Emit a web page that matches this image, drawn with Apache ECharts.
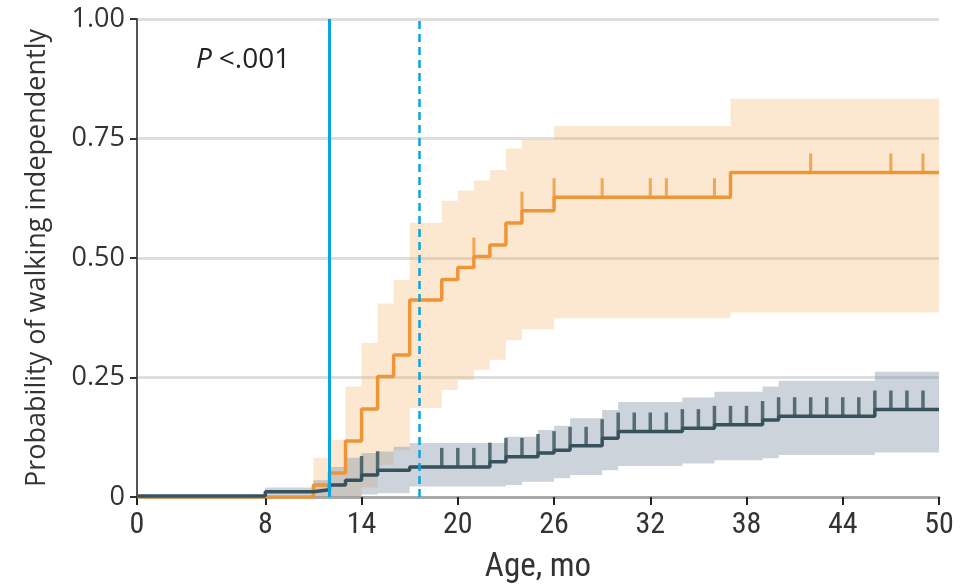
<!DOCTYPE html>
<html>
<head>
<meta charset="utf-8">
<script src="https://cdn.jsdelivr.net/npm/echarts@6/dist/echarts.min.js"></script>
<style>
  html, body { margin: 0; padding: 0; background: #fff; }
  #chart { width: 974px; height: 587px; }
</style>
</head>
<body>
<div id="chart"></div>
<script>
// x tick labels (months)
var xTicks = [0, 8, 14, 20, 26, 32, 38, 44, 50];

// orange group: Kaplan-Meier step curve
var orangeT = [0, 11, 12, 13, 14, 15, 16, 17, 19, 20, 21, 22, 23, 24, 26, 37, 50];
var orangeV = [0, 0.025, 0.05, 0.117, 0.184, 0.252, 0.297, 0.412, 0.455, 0.48, 0.503, 0.527, 0.573, 0.599, 0.627, 0.679, 0.679];
var orangeCens = [21, 24, 26, 29, 32, 33, 36, 42, 47, 49];
// orange confidence band
var orangeBandT = [11, 12, 13, 14, 15, 16, 17, 19, 20, 21, 22, 23, 24, 26, 37, 50];
var orangeLo = [0, 0, 0, 0.02, 0.067, 0.098, 0.186, 0.224, 0.245, 0.266, 0.287, 0.328, 0.351, 0.374, 0.386, 0.386];
var orangeHi = [0.082, 0.12, 0.231, 0.322, 0.405, 0.454, 0.574, 0.62, 0.641, 0.662, 0.684, 0.729, 0.748, 0.776, 0.833, 0.833];

// dark group
var darkT = [0, 8, 11, 12, 13, 14, 15, 17, 22, 23, 25, 26, 27, 29, 30, 34, 36, 39, 40, 46, 50];
var darkV = [0.002, 0.011, 0.015, 0.025, 0.035, 0.046, 0.056, 0.063, 0.074, 0.084, 0.092, 0.098, 0.107, 0.123, 0.137, 0.144, 0.151, 0.161, 0.169, 0.183, 0.183];
var darkCens = [14, 15, 19, 20, 21, 22, 23, 24, 25, 26, 27, 28, 29, 30, 31, 32, 33, 34, 35, 36, 37, 38, 39, 40, 41, 42, 43, 44, 45, 46, 47, 48, 49];
var darkBandT = [8, 11, 12, 13, 14, 15, 16, 17, 23, 24, 25, 26, 27, 29, 30, 34, 36, 39, 40, 46, 50];
var darkLo = [0, 0, 0, 0, 0.005, 0.008, 0.008, 0.022, 0.025, 0.032, 0.032, 0.039, 0.046, 0.056, 0.065, 0.07, 0.077, 0.081, 0.088, 0.093, 0.093];
var darkHi = [0.02, 0.035, 0.063, 0.082, 0.092, 0.095, 0.105, 0.113, 0.126, 0.126, 0.14, 0.149, 0.165, 0.182, 0.199, 0.208, 0.22, 0.231, 0.243, 0.262, 0.262];

// reference lines (months)
var solidLineAt = 12;
var dashedLineAt = 17.6;

var ORANGE = '#EE9637';
var DARK = '#36525D';
var BLUE = '#0AA4E2';
var FONT = 'Open Sans, Noto Sans, sans-serif';
var NARROW = 'Liberation Sans Narrow, Roboto Condensed, Liberation Sans';

function pairs(t, v) {
    return t.map(function (x, i) { return [x, v[i]]; });
}
// level of a step curve at time x
function levelAt(t, v, x) {
    var k = 0;
    for (var i = 0; i < t.length; i++) {
        if (t[i] <= x) k = i;
    }
    return v[k];
}
function censPairs(t, v, c) {
    return c.map(function (x) { return [x, levelAt(t, v, x)]; });
}

// confidence band as a stepped polygon, placed through the axes
function band(name, t, lo, hi, color) {
    return {
        name: name, type: 'custom', silent: true, z: 1,
        data: [[t[0], lo[0]]],
        renderItem: function (params, api) {
            var pts = [];
            for (var i = 0; i < t.length; i++) {
                if (i > 0) pts.push(api.coord([t[i], hi[i - 1]]));
                pts.push(api.coord([t[i], hi[i]]));
            }
            for (var j = t.length - 1; j >= 0; j--) {
                pts.push(api.coord([t[j], lo[j]]));
                if (j > 0) pts.push(api.coord([t[j], lo[j - 1]]));
            }
            return { type: 'polygon', shape: { points: pts }, style: { fill: color } };
        }
    };
}

var myChart = echarts.init(document.getElementById('chart'), null, { renderer: 'canvas' });

var series = [];
series.push(band('orangeBand', orangeBandT, orangeLo, orangeHi, 'rgba(244,178,100,0.3)'));
series.push(band('darkBand', darkBandT, darkLo, darkHi, 'rgba(120,140,160,0.38)'));
series.push({
    name: 'orange', type: 'line', step: 'end', data: pairs(orangeT, orangeV),
    symbol: 'none', lineStyle: { color: ORANGE, width: 3.5 }, z: 3,
    markLine: {
        silent: true, symbol: 'none', label: { show: false }, z: 6,
        data: [
            { xAxis: solidLineAt, lineStyle: { color: BLUE, width: 3, type: 'solid' } },
            { xAxis: dashedLineAt, lineStyle: { color: BLUE, width: 2.5, type: [8, 5] } }
        ]
    }
});
series.push({
    name: 'dark', type: 'line', step: 'end', data: pairs(darkT, darkV),
    symbol: 'none', lineStyle: { color: DARK, width: 3.5 }, z: 3
});
series.push({
    name: 'ocens', type: 'scatter', data: censPairs(orangeT, orangeV, orangeCens),
    symbol: 'rect', symbolSize: [3, 19], symbolOffset: [0, '-50%'],
    itemStyle: { color: ORANGE }, z: 3, silent: true
});
series.push({
    name: 'dcens', type: 'scatter', data: censPairs(darkT, darkV, darkCens),
    symbol: 'rect', symbolSize: [3.5, 19], symbolOffset: [0, '-50%'],
    itemStyle: { color: DARK }, z: 3, silent: true
});

myChart.setOption({
    animation: false,
    grid: { left: 137, right: 35, top: 19, bottom: 90, containLabel: false, outerBoundsMode: 'none' },
    xAxis: {
        type: 'value', min: 0, max: 50, interval: 2,
        name: 'Age, mo', nameLocation: 'middle', nameGap: 54,
        nameTextStyle: { fontFamily: NARROW, fontSize: 33, color: '#333' },
        axisLine: { onZero: false, lineStyle: { color: '#A8A8A8', width: 3 } },
        axisTick: { customValues: xTicks, length: 8, lineStyle: { color: '#222', width: 2 } },
        axisLabel: {
            customValues: xTicks, margin: 13,
            fontFamily: NARROW, fontSize: 30, color: '#333'
        },
        splitLine: { show: false }
    },
    yAxis: {
        type: 'value', min: 0, max: 1, interval: 0.25,
        name: 'Probability of walking independently', nameLocation: 'middle', nameGap: 86,
        nameTextStyle: { fontFamily: FONT, fontSize: 27, color: '#333' },
        axisLine: { show: true, lineStyle: { color: '#555', width: 2 } },
        axisTick: { show: true, length: 7, lineStyle: { color: '#333', width: 2 } },
        axisLabel: {
            margin: 12, fontFamily: FONT, fontSize: 27, color: '#333',
            formatter: function (v) { return v === 0 ? '0' : v.toFixed(2); }
        },
        splitLine: { lineStyle: { color: '#DEDEDE', width: 3 } }
    },
    graphic: [
        {
            type: 'text', left: 196, top: 46, z: 10,
            style: {
                rich: {
                    p: { fontStyle: 'italic', fontFamily: FONT, fontSize: 28, fill: '#222', padding: [0, 7, 0, 0] },
                    n: { fontFamily: FONT, fontSize: 28, fill: '#222' }
                },
                text: '{p|P}{n|<.001}'
            }
        }
    ],
    series: series
});
</script>
</body>
</html>
